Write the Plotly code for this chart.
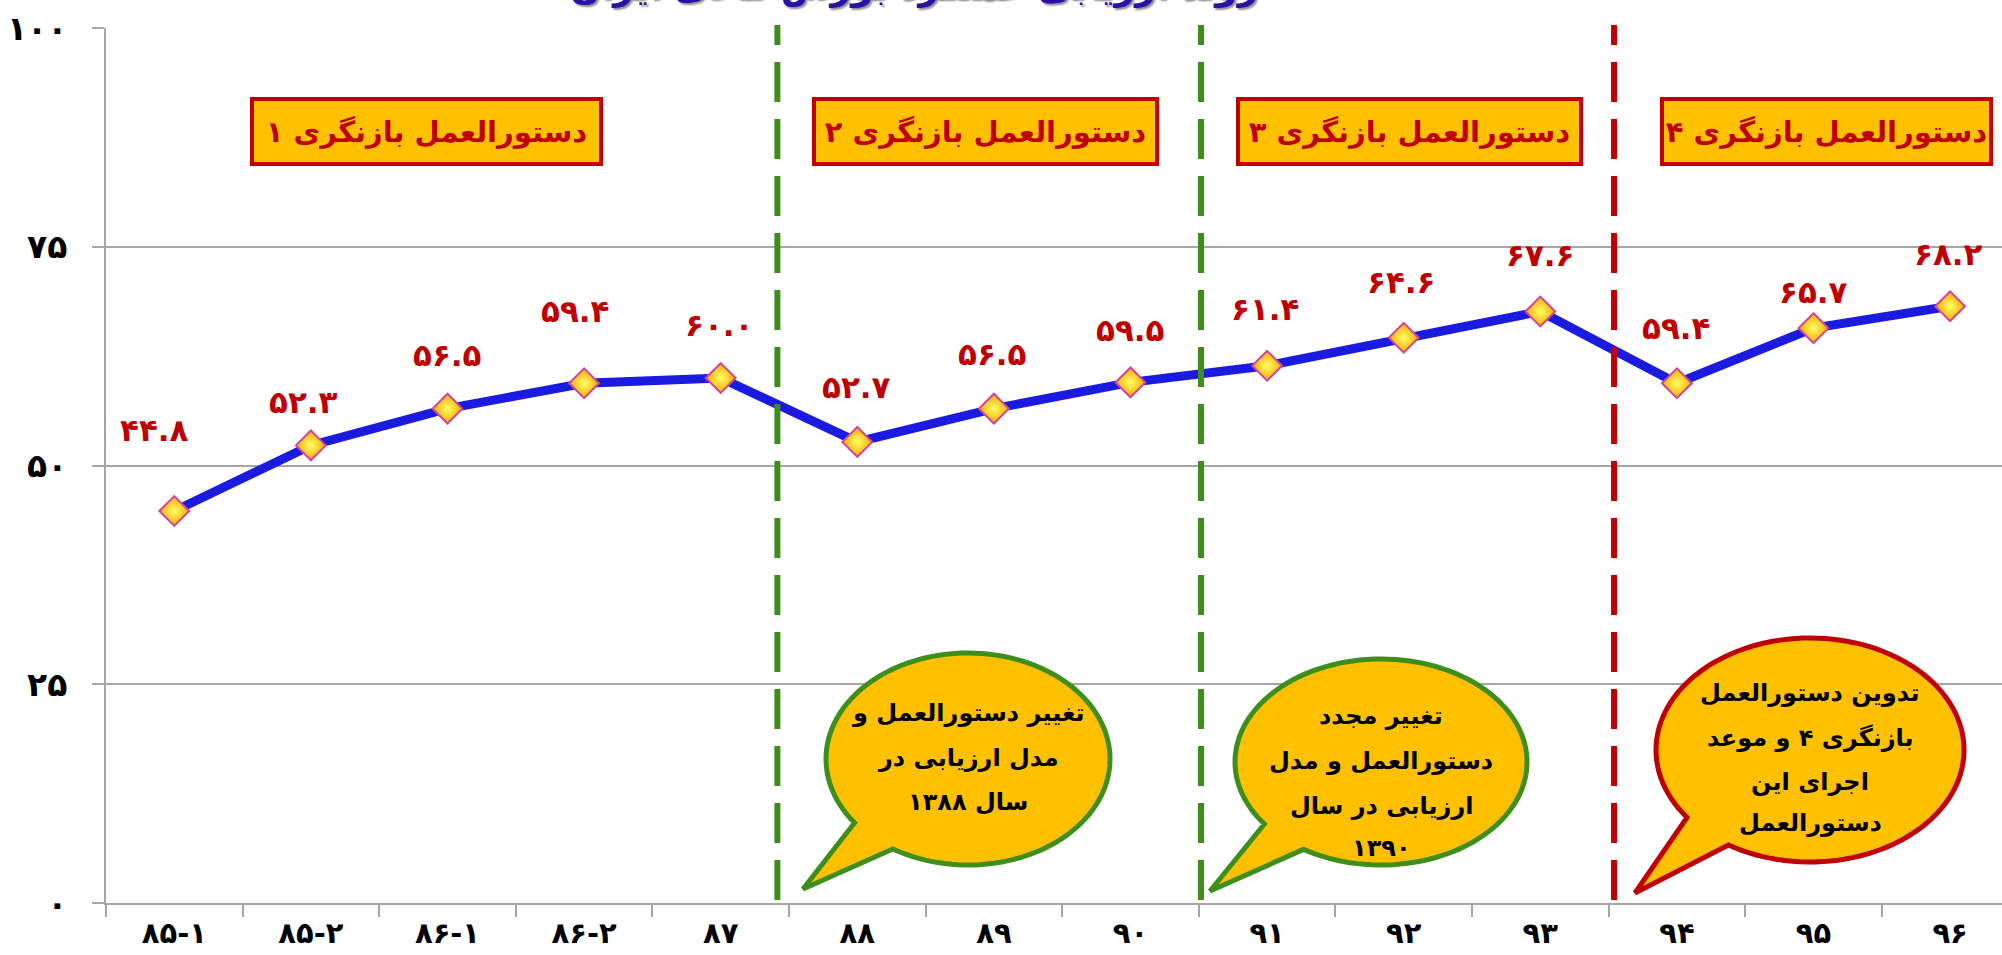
import math
import plotly.graph_objects as go

# ---------------- data ----------------
categories = ["۸۵-۱", "۸۵-۲", "۸۶-۱", "۸۶-۲", "۸۷", "۸۸", "۸۹",
              "۹۰", "۹۱", "۹۲", "۹۳", "۹۴", "۹۵", "۹۶"]
scores = [44.8, 52.3, 56.5, 59.4, 60.0, 52.7, 56.5, 59.5, 61.4, 64.6, 67.6, 59.4, 65.7, 68.2]
y_tick_values = [0, 25, 50, 75, 100]
chart_title = "روند ارزیابی عملکرد بورس کالای ایران"
period_titles = ["دستورالعمل بازنگری ۱", "دستورالعمل بازنگری ۲",
                 "دستورالعمل بازنگری ۳", "دستورالعمل بازنگری ۴"]
bubble_texts = [
    ["تغییر دستورالعمل و", "مدل ارزیابی در", "سال ۱۳۸۸"],
    ["تغییر مجدد", "دستورالعمل و مدل", "ارزیابی در سال", "۱۳۹۰"],
    ["تدوین دستورالعمل", "بازنگری ۴ و موعد", "اجرای این", "دستورالعمل"],
]

# ---------------- helpers ----------------
FA = str.maketrans("0123456789", "۰۱۲۳۴۵۶۷۸۹")


def fa(s):
    return str(s).translate(FA)


W, H = 2002, 955
ML, MR, MT, MB = 106, 0, 28, 52
PW, PH = W - ML - MR, H - MT - MB


def px(X, Y):
    return (X - ML) / PW, (H - MB - Y) / PH


# style / layout constants
LINE_BLUE = "#1A1AE0"
LABEL_RED = "#C00000"
GOLD = "#FFC000"
GREEN = "#3E8E1C"
GRID = "#A6A6A6"
FONT = "DejaVu Sans"

label_dx = [-20, -7, 0, -9, -1, -1, -1, 0, -2, -2, 0, 0, 0, -2]
label_dy = [81, 43, 54, 72, 53, 55, 55, 52, 57, 56, 57, 55, 36, 52]

fig = go.Figure()
fig.add_trace(go.Scatter(
    x=categories, y=scores, mode="lines+markers",
    line=dict(color=LINE_BLUE, width=9),
    marker=dict(symbol="diamond", size=23, color="#F2A900",
                gradient=dict(type="radial", color="#FFFF66"),
                line=dict(color="#D0449C", width=2)),
    hoverinfo="skip", showlegend=False,
))

annotations = []
for i, (c, v) in enumerate(zip(categories, scores)):
    annotations.append(dict(
        x=c, y=v, xref="x", yref="y", text=fa(f"{v:.1f}"), showarrow=False,
        xshift=label_dx[i], yshift=label_dy[i], xanchor="center", yanchor="middle",
        font=dict(family=FONT, size=31, color=LABEL_RED, weight="bold"),
    ))

# period boxes (pixel geometry)
boxes = [(426.5, 131.5, 353, 69), (985.5, 131.5, 347, 69),
         (1409.5, 131.5, 347, 69), (1826.5, 131.5, 333, 69)]
for (cx, cy, bw, bh), t in zip(boxes, period_titles):
    xp, yp = px(cx, cy)
    annotations.append(dict(
        x=xp, y=yp, xref="paper", yref="paper", text=t, showarrow=False,
        xanchor="center", yanchor="middle", width=bw - 8, height=bh - 8,
        bgcolor=GOLD, bordercolor=LABEL_RED, borderwidth=4, borderpad=0,
        font=dict(family=FONT, size=29, color=LABEL_RED, weight="bold"),
    ))

# speech bubbles
bubbles = [
    dict(c=(968, 759), r=(142, 106), tip=(803, 889), col=GREEN, lines=[713, 758, 802]),
    dict(c=(1381, 762), r=(146, 103), tip=(1210, 891), col=GREEN, lines=[716, 761, 806, 848]),
    dict(c=(1810, 750), r=(154, 112), tip=(1635, 893), col=LABEL_RED, lines=[693, 738, 782, 823]),
]
shapes = []
for b, texts in zip(bubbles, bubble_texts):
    cx, cy = b["c"]
    rx, ry = b["r"]
    a0, a1 = 143.0, 122.0 + 360.0
    pts = []
    n = 120
    for k in range(n + 1):
        a = math.radians(a0 + (a1 - a0) * k / n)
        pts.append(px(cx + rx * math.cos(a), cy + ry * math.sin(a)))
    pts.append(px(*b["tip"]))
    path = "M " + " L ".join(f"{x:.5f},{y:.5f}" for x, y in pts) + " Z"
    shapes.append(dict(type="path", xref="paper", yref="paper", path=path,
                       fillcolor=GOLD, line=dict(color=b["col"], width=5), layer="above"))
    for t, ly in zip(texts, b["lines"]):
        xp, yp = px(cx, ly)
        annotations.append(dict(
            x=xp, y=yp, xref="paper", yref="paper", text=t, showarrow=False,
            xanchor="center", yanchor="middle",
            font=dict(family=FONT, size=24, color="black", weight="bold"),
        ))

# dashed separators
for xpos, col in [(4.415, GREEN), (7.516, GREEN), (10.54, LABEL_RED)]:
    shapes.append(dict(type="line", xref="x", yref="paper", x0=xpos, x1=xpos,
                       y0=px(0, 900)[1], y1=px(0, 25)[1],
                       line=dict(color=col, width=6, dash="40px,17px"), layer="above"))

# title (clipped at the top like the reference)
tx, ty = px(914, 10)
annotations.append(dict(
    x=tx, y=ty, xref="paper", yref="paper", text=chart_title, showarrow=False,
    xanchor="center", yanchor="bottom",
    font=dict(family=FONT, size=36, color="#2A10A8", weight="bold",
              shadow="2px 2px 2px rgba(0,0,0,0.45)"),
))

fig.update_layout(
    width=W, height=H,
    margin=dict(l=ML, r=MR, t=MT, b=MB, pad=0),
    paper_bgcolor="white", plot_bgcolor="white",
    shapes=shapes, annotations=annotations,
    showlegend=False,
)
fig.update_xaxes(
    type="category", range=[-0.5, PW / 136.6 - 0.5],
    showgrid=False, showline=True, linecolor=GRID, linewidth=2,
    ticks="outside", tickson="boundaries", ticklen=12, tickcolor=GRID, tickwidth=2,
    tickfont=dict(family=FONT, size=29, color="black", weight="bold"),
    ticklabelstandoff=3, automargin=False,
)
fig.update_yaxes(
    range=[0, 100], tickvals=y_tick_values, ticktext=[fa(v) for v in y_tick_values],
    showgrid=True, gridcolor=GRID, gridwidth=2, zeroline=False,
    showline=True, linecolor=GRID, linewidth=2,
    ticks="outside", ticklen=12, tickcolor=GRID, tickwidth=2,
    tickfont=dict(family=FONT, size=33, color="black", weight="bold"),
    ticklabelstandoff=18, automargin=False,
)

fig.write_html(
    "out.html",
    config={"displayModeBar": False},
    post_script="document.body.style.margin='0';document.body.style.overflow='hidden';",
)
